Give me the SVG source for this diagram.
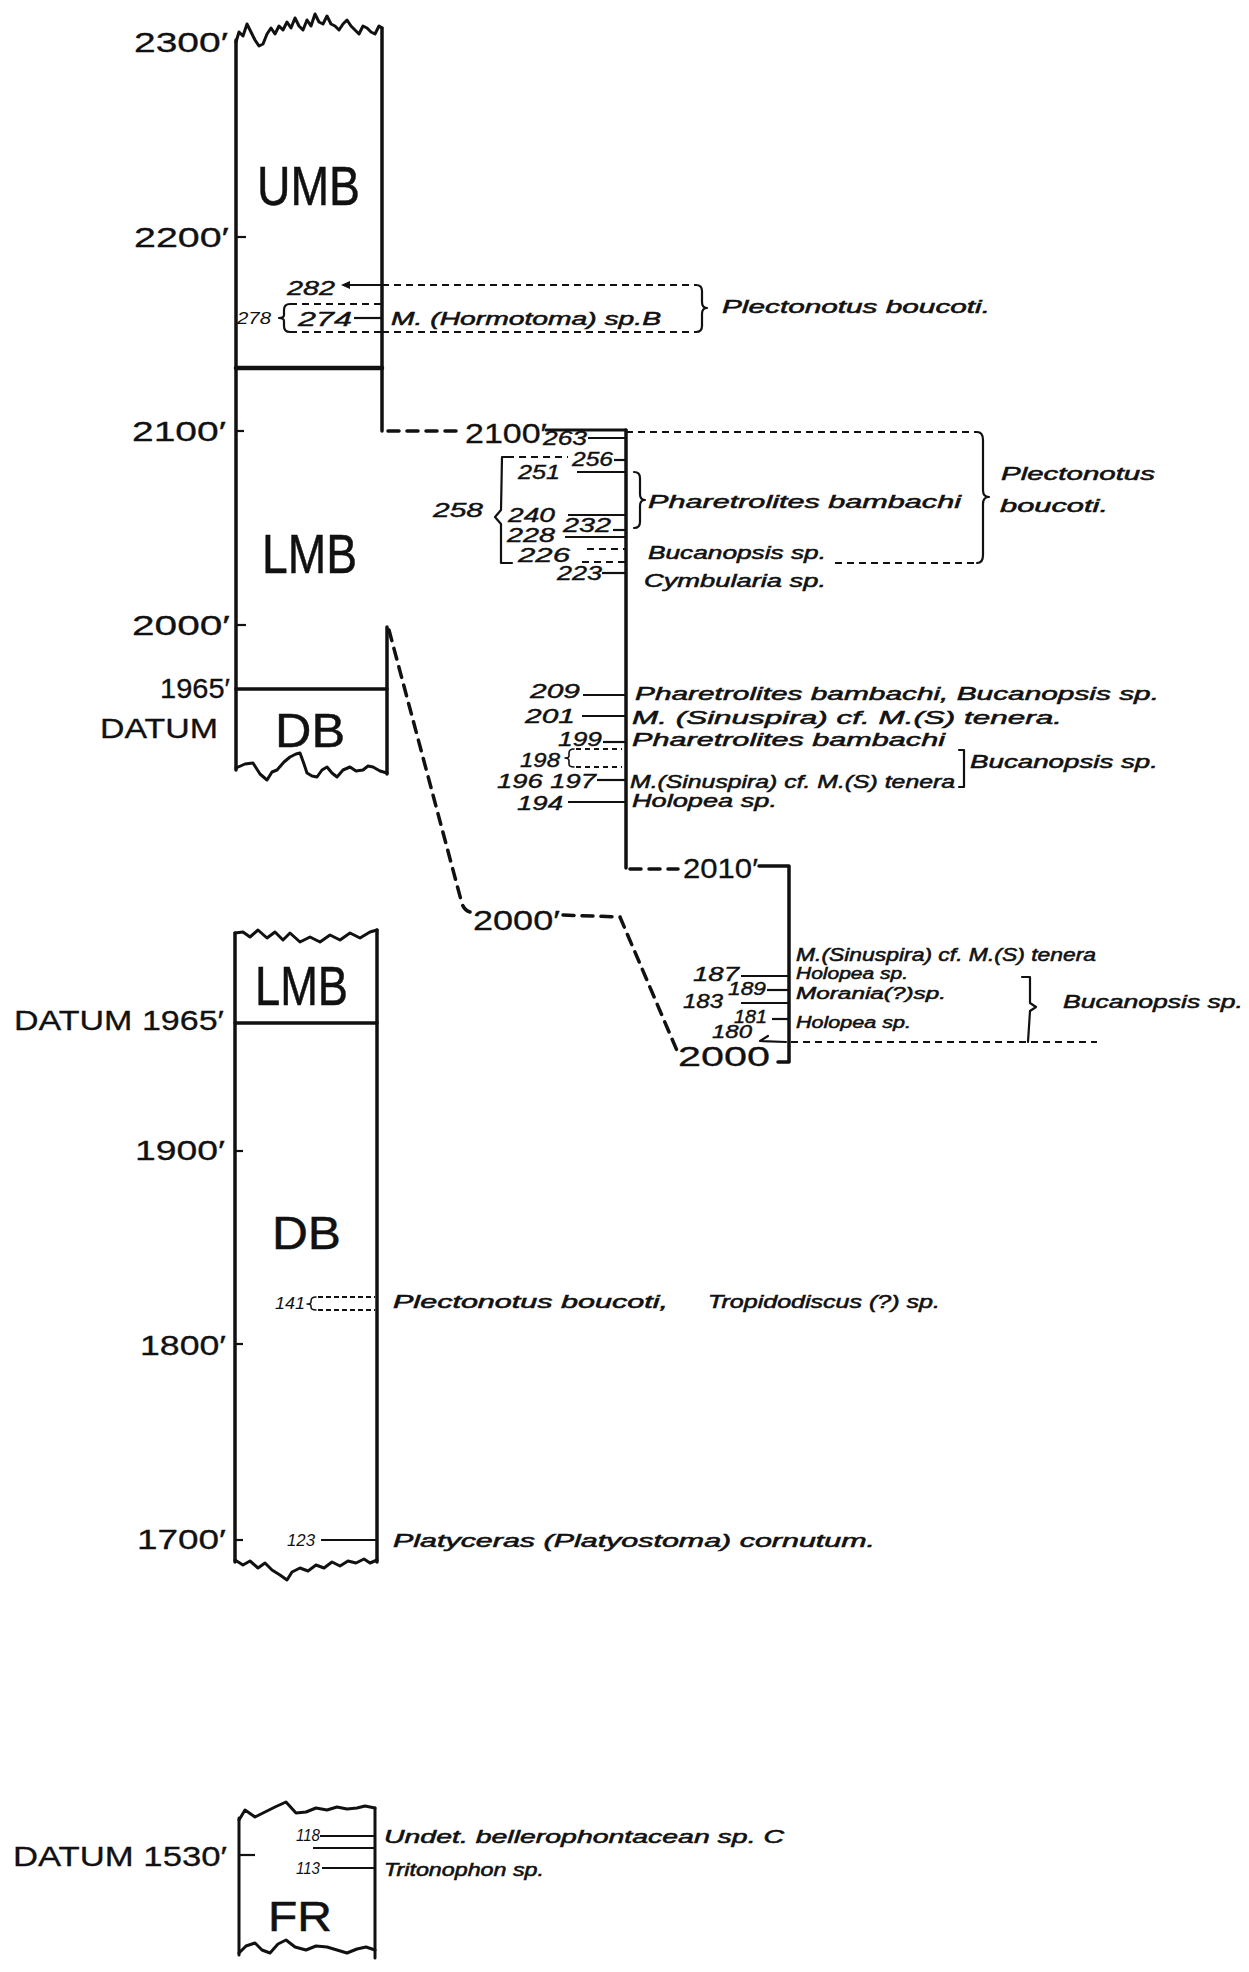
<svg xmlns="http://www.w3.org/2000/svg" width="1249" height="1972" viewBox="0 0 1249 1972">
<style>
  .bg{fill:#fff}
  .col{fill:none;stroke:#111;stroke-width:3.5;stroke-linecap:round;stroke-linejoin:round}
  .wav{fill:none;stroke:#111;stroke-width:3;stroke-linejoin:round;stroke-linecap:round}
  .ld{fill:none;stroke:#111;stroke-width:2.2}
  .dsh{fill:none;stroke:#111;stroke-width:1.8;stroke-dasharray:7 5}
  .cor{fill:none;stroke:#111;stroke-width:3.5;stroke-dasharray:11 8;stroke-linecap:round}
  .br{fill:none;stroke:#111;stroke-width:2.2;stroke-linejoin:round;stroke-linecap:round}
  .dep{font-family:"Liberation Sans",Arial,sans-serif;font-size:28px;fill:#111;stroke:#111;stroke-width:0.3}
  .unit{font-family:"Liberation Sans",Arial,sans-serif;font-size:55px;fill:#111;stroke:#111;stroke-width:0.5}
  .num{font-family:"Liberation Sans",Arial,sans-serif;font-size:20px;font-style:italic;fill:#111;stroke:#111;stroke-width:0.4}
  .sm{font-family:"Liberation Sans",Arial,sans-serif;font-size:16px;font-style:italic;fill:#111}
  .sp{font-family:"Liberation Sans",Arial,sans-serif;font-size:19px;font-style:italic;fill:#111;stroke:#111;stroke-width:0.55}
</style>
<rect class="bg" x="0" y="0" width="1249" height="1972"/>

<g id="connectors">
  <line class="cor" x1="388" y1="431" x2="460" y2="431"/>
  <path class="cor" d="M389,630 L461,900 Q463,910 470,912"/>
  <path class="cor" d="M563,915 L620,917 L678,1053"/>
  <line class="cor" x1="630" y1="869" x2="678" y2="869"/>
  <line class="dsh" x1="382" y1="285" x2="696" y2="285"/>
  <line class="dsh" x1="382" y1="332" x2="696" y2="332"/>
  <line class="dsh" x1="626" y1="432" x2="977" y2="432"/>
  <line class="dsh" x1="835" y1="563" x2="977" y2="563"/>
  <line class="dsh" x1="791" y1="1042" x2="1097" y2="1042"/>
</g>

<g id="column-upper">
  <polyline class="wav" points="236,42 239,32 243,36 247,24 251,32 255,40 259,46 263,44 267,34 271,28 275,34 279,26 283,30 287,22 291,28 295,18 299,26 303,30 307,20 311,26 315,14 319,22 323,24 327,16 331,24 335,26 339,30 343,24 347,20 351,26 355,30 359,34 363,26 367,28 371,32 375,34 379,26 382,28"/>
  <line class="col" x1="236" y1="40" x2="236" y2="770"/>
  <line class="col" x1="382" y1="28" x2="382" y2="431"/>
  <line class="col" x1="236" y1="368" x2="382" y2="368" style="stroke-width:4.5"/>
  <line class="col" x1="236" y1="689" x2="387" y2="689"/>
  <line class="col" x1="387" y1="627" x2="387" y2="774"/>
  <polyline class="wav" points="236,768 245,764 253,763 260,774 267,780 272,772 277,770 284,762 290,757 296,754 300,753 304,764 307,773 312,776 317,777 322,770 327,767 332,773 337,777 343,770 350,767 356,771 363,770 368,766 373,767 380,771 387,773"/>
  <line class="ld" x1="236" y1="237" x2="246" y2="237"/>
  <line class="ld" x1="236" y1="431" x2="244" y2="431"/>
  <line class="ld" x1="236" y1="625" x2="246" y2="625"/>
  <text class="dep" x="134" y="52" textLength="94" lengthAdjust="spacingAndGlyphs">2300′</text>
  <text class="dep" x="134" y="247" textLength="95" lengthAdjust="spacingAndGlyphs">2200′</text>
  <text class="dep" x="132" y="441" textLength="94" lengthAdjust="spacingAndGlyphs">2100′</text>
  <text class="dep" x="132" y="635" textLength="98" lengthAdjust="spacingAndGlyphs">2000′</text>
  <text class="dep" x="160" y="698" textLength="70" lengthAdjust="spacingAndGlyphs">1965′</text>
  <text class="dep" x="100" y="738" textLength="118" lengthAdjust="spacingAndGlyphs">DATUM</text>
  <text class="unit" x="257" y="205" textLength="103" lengthAdjust="spacingAndGlyphs">UMB</text>
  <text class="unit" x="262" y="573" textLength="95" lengthAdjust="spacingAndGlyphs">LMB</text>
  <text class="unit" x="275" y="747" textLength="70" lengthAdjust="spacingAndGlyphs" style="font-size:48px">DB</text>
</g>

<g id="samples-upper">
  <text class="num" x="287" y="295" textLength="48" lengthAdjust="spacingAndGlyphs">282</text>
  <line class="ld" x1="345" y1="285" x2="382" y2="285"/>
  <path d="M341,285 L350,281 L350,289 Z" fill="#111"/>
  <text class="sm" x="237" y="324" textLength="34" lengthAdjust="spacingAndGlyphs">278</text>
  <path class="br" d="M290,304 Q284,304 284,310 L284,315 Q284,318 279,318 Q284,318 284,321 L284,326 Q284,332 290,332"/>
  <line class="dsh" x1="290" y1="304" x2="382" y2="304"/>
  <line class="dsh" x1="290" y1="332" x2="382" y2="332"/>
  <text class="num" x="298" y="326" textLength="54" lengthAdjust="spacingAndGlyphs">274</text>
  <line class="ld" x1="354" y1="318" x2="382" y2="318"/>
  <text class="sp" x="391" y="325" textLength="270" lengthAdjust="spacingAndGlyphs">M. (Hormotoma) sp.B</text>
  <path class="br" d="M696,285 Q702,285 702,291 L702,302 Q702,308 707,308 Q702,308 702,314 L702,326 Q702,332 696,332"/>
  <text class="sp" x="722" y="313" textLength="268" lengthAdjust="spacingAndGlyphs">Plectonotus boucoti.</text>
</g>

<g id="column-2100-2010">
  <text class="dep" x="465" y="443" textLength="82" lengthAdjust="spacingAndGlyphs">2100′</text>
  <line class="col" x1="546" y1="430" x2="626" y2="430" style="stroke-width:3"/>
  <line class="col" x1="626" y1="430" x2="626" y2="868"/>
  <text class="num" x="543" y="445" textLength="44" lengthAdjust="spacingAndGlyphs">263</text>
  <line class="ld" x1="588" y1="438" x2="626" y2="438"/>
  <line class="dsh" x1="507" y1="457" x2="568" y2="457"/>
  <text class="num" x="572" y="466" textLength="41" lengthAdjust="spacingAndGlyphs">256</text>
  <line class="ld" x1="614" y1="460" x2="626" y2="460"/>
  <text class="num" x="518" y="479" textLength="42" lengthAdjust="spacingAndGlyphs">251</text>
  <line class="ld" x1="577" y1="472" x2="626" y2="472"/>
  <text class="num" x="433" y="517" textLength="50" lengthAdjust="spacingAndGlyphs">258</text>
  <path class="br" d="M508,457 L502,457 L501,510 L495,517 L501,524 L501,563 L512,563"/>
  <text class="num" x="508" y="522" textLength="47" lengthAdjust="spacingAndGlyphs">240</text>
  <line class="ld" x1="568" y1="515" x2="626" y2="515"/>
  <text class="num" x="563" y="532" textLength="48" lengthAdjust="spacingAndGlyphs">232</text>
  <line class="ld" x1="613" y1="530" x2="626" y2="530"/>
  <text class="num" x="507" y="542" textLength="48" lengthAdjust="spacingAndGlyphs">228</text>
  <line class="ld" x1="565" y1="537" x2="626" y2="537"/>
  <text class="num" x="518" y="562" textLength="52" lengthAdjust="spacingAndGlyphs">226</text>
  <line class="dsh" x1="587" y1="549" x2="626" y2="549"/>
  <line class="dsh" x1="582" y1="562" x2="626" y2="562"/>
  <text class="num" x="557" y="580" textLength="45" lengthAdjust="spacingAndGlyphs">223</text>
  <line class="ld" x1="602" y1="573" x2="626" y2="573"/>
  <path class="br" d="M634,472 Q640,472 640,478 L640,494 Q640,500 645,500 Q640,500 640,506 L640,522 Q640,528 634,528"/>
  <text class="sp" x="648" y="508" textLength="313" lengthAdjust="spacingAndGlyphs">Pharetrolites bambachi</text>
  <text class="sp" x="648" y="559" textLength="178" lengthAdjust="spacingAndGlyphs">Bucanopsis sp.</text>
  <text class="sp" x="644" y="587" textLength="182" lengthAdjust="spacingAndGlyphs">Cymbularia sp.</text>
  <path class="br" d="M977,432 Q983,432 983,440 L983,490 Q983,497 989,497 Q983,497 983,504 L983,555 Q983,563 977,563"/>
  <text class="sp" x="1001" y="480" textLength="154" lengthAdjust="spacingAndGlyphs">Plectonotus</text>
  <text class="sp" x="1000" y="512" textLength="108" lengthAdjust="spacingAndGlyphs">boucoti.</text>

  <text class="num" x="530" y="698" textLength="50" lengthAdjust="spacingAndGlyphs">209</text>
  <line class="ld" x1="583" y1="695" x2="626" y2="695"/>
  <text class="sp" x="635" y="700" textLength="524" lengthAdjust="spacingAndGlyphs">Pharetrolites bambachi, Bucanopsis sp.</text>
  <text class="num" x="525" y="723" textLength="50" lengthAdjust="spacingAndGlyphs">201</text>
  <line class="ld" x1="582" y1="716" x2="626" y2="716"/>
  <text class="sp" x="632" y="724" textLength="430" lengthAdjust="spacingAndGlyphs">M. (Sinuspira) cf. M.(S) tenera.</text>
  <text class="num" x="558" y="746" textLength="44" lengthAdjust="spacingAndGlyphs">199</text>
  <line class="ld" x1="603" y1="742" x2="626" y2="742"/>
  <text class="sp" x="632" y="746" textLength="313" lengthAdjust="spacingAndGlyphs">Pharetrolites bambachi</text>
  <text class="num" x="520" y="767" textLength="40" lengthAdjust="spacingAndGlyphs">198</text>
  <path class="br" d="M574,749 Q569,749 569,753 L569,756 Q569,758 565,758 Q569,758 569,761 L569,764 Q569,767 574,767" style="stroke-width:1.6"/>
  <line class="dsh" x1="576" y1="749" x2="622" y2="749" style="stroke-dasharray:5 4"/>
  <line class="dsh" x1="576" y1="767" x2="622" y2="767" style="stroke-dasharray:5 4"/>
  <text class="num" x="497" y="788" textLength="99" lengthAdjust="spacingAndGlyphs">196 197</text>
  <line class="ld" x1="597" y1="780" x2="626" y2="780"/>
  <text class="sp" x="630" y="788" textLength="325" lengthAdjust="spacingAndGlyphs">M.(Sinuspira) cf. M.(S) tenera</text>
  <path class="br" d="M959,750 L964,750 L964,787 L959,787"/>
  <text class="sp" x="970" y="768" textLength="188" lengthAdjust="spacingAndGlyphs">Bucanopsis sp.</text>
  <text class="num" x="517" y="810" textLength="46" lengthAdjust="spacingAndGlyphs">194</text>
  <line class="ld" x1="568" y1="802" x2="626" y2="802"/>
  <text class="sp" x="632" y="807" textLength="145" lengthAdjust="spacingAndGlyphs">Holopea sp.</text>

  <text class="dep" x="683" y="878" textLength="75" lengthAdjust="spacingAndGlyphs">2010′</text>
  <polyline class="col" points="759,866 789,866 789,1062 778,1062"/>
</g>

<g id="column-2010-2000">
  <text class="sp" x="796" y="961" textLength="300" lengthAdjust="spacingAndGlyphs" style="font-size:18px">M.(Sinuspira) cf. M.(S) tenera</text>
  <text class="num" x="693" y="981" textLength="46" lengthAdjust="spacingAndGlyphs">187</text>
  <line class="ld" x1="741" y1="976" x2="789" y2="976"/>
  <text class="sp" x="796" y="979" textLength="112" lengthAdjust="spacingAndGlyphs" style="font-size:17px">Holopea sp.</text>
  <text class="num" x="728" y="995" textLength="38" lengthAdjust="spacingAndGlyphs" style="font-size:18px">189</text>
  <line class="ld" x1="767" y1="990" x2="789" y2="990"/>
  <text class="sp" x="796" y="999" textLength="150" lengthAdjust="spacingAndGlyphs" style="font-size:17px">Morania(?)sp.</text>
  <text class="num" x="683" y="1008" textLength="40" lengthAdjust="spacingAndGlyphs">183</text>
  <line class="ld" x1="741" y1="1003" x2="789" y2="1003"/>
  <text class="num" x="734" y="1023" textLength="33" lengthAdjust="spacingAndGlyphs" style="font-size:18px">181</text>
  <line class="ld" x1="772" y1="1019" x2="789" y2="1019"/>
  <text class="sp" x="796" y="1028" textLength="115" lengthAdjust="spacingAndGlyphs" style="font-size:17px">Holopea sp.</text>
  <text class="num" x="712" y="1038" textLength="40" lengthAdjust="spacingAndGlyphs" style="font-size:18px">180</text>
  <path class="br" d="M768,1036 L760,1041 L786,1042"/>
  <path class="br" d="M1022,977 L1030,977 L1030,1003 L1036,1007 L1030,1011 L1028,1042"/>
  <text class="sp" x="1063" y="1008" textLength="180" lengthAdjust="spacingAndGlyphs">Bucanopsis sp.</text>
  <text class="dep" x="678" y="1066" textLength="92" lengthAdjust="spacingAndGlyphs">2000</text>
  <text class="dep" x="473" y="930" textLength="87" lengthAdjust="spacingAndGlyphs">2000′</text>
</g>

<g id="column-lower">
  <polyline class="wav" points="235,933 243,932 250,937 258,930 267,938 275,932 283,940 290,933 300,942 310,937 320,942 330,935 340,940 350,933 360,938 370,932 377,930"/>
  <line class="col" x1="235" y1="933" x2="235" y2="1562"/>
  <line class="col" x1="377" y1="930" x2="377" y2="1562"/>
  <line class="col" x1="235" y1="1023" x2="377" y2="1023"/>
  <text class="unit" x="255" y="1005" textLength="93" lengthAdjust="spacingAndGlyphs">LMB</text>
  <text class="dep" x="14" y="1030" textLength="210" lengthAdjust="spacingAndGlyphs">DATUM 1965′</text>
  <line class="ld" x1="235" y1="1151" x2="243" y2="1151"/>
  <text class="dep" x="135" y="1160" textLength="90" lengthAdjust="spacingAndGlyphs">1900′</text>
  <text class="unit" x="272" y="1249" textLength="69" lengthAdjust="spacingAndGlyphs" style="font-size:46px">DB</text>
  <text class="sm" x="275" y="1309" textLength="30" lengthAdjust="spacingAndGlyphs">141</text>
  <path class="br" d="M316,1297 Q311,1297 311,1301 L311,1302 Q311,1304 307,1304 Q311,1304 311,1306 L311,1307 Q311,1310 316,1310" style="stroke-width:1.5"/>
  <line class="dsh" x1="318" y1="1297" x2="375" y2="1297" style="stroke-dasharray:5 3"/>
  <line class="dsh" x1="318" y1="1310" x2="375" y2="1310" style="stroke-dasharray:5 3"/>
  <text class="sp" x="393" y="1308" textLength="275" lengthAdjust="spacingAndGlyphs" style="font-size:18px">Plectonotus boucoti,</text>
  <text class="sp" x="708" y="1308" textLength="232" lengthAdjust="spacingAndGlyphs" style="font-size:18px">Tropidodiscus (?) sp.</text>
  <line class="ld" x1="235" y1="1344" x2="243" y2="1344"/>
  <text class="dep" x="140" y="1355" textLength="86" lengthAdjust="spacingAndGlyphs">1800′</text>
  <line class="ld" x1="235" y1="1540" x2="243" y2="1540"/>
  <text class="dep" x="137" y="1549" textLength="89" lengthAdjust="spacingAndGlyphs">1700′</text>
  <text class="sm" x="287" y="1546" textLength="28" lengthAdjust="spacingAndGlyphs">123</text>
  <line class="ld" x1="321" y1="1540" x2="377" y2="1540"/>
  <text class="sp" x="393" y="1547" textLength="482" lengthAdjust="spacingAndGlyphs" style="font-size:18px">Platyceras (Platyostoma) cornutum.</text>
  <polyline class="wav" points="235,1560 243,1565 250,1561 258,1568 265,1563 272,1570 280,1575 287,1580 292,1572 300,1568 308,1571 316,1565 324,1568 332,1562 340,1566 348,1561 356,1563 364,1559 370,1563 377,1560"/>
</g>

<g id="column-fr">
  <polyline class="wav" points="239,1820 245,1810 255,1817 265,1812 275,1807 286,1802 296,1813 306,1812 316,1808 327,1810 337,1807 347,1809 357,1808 365,1806 375,1808"/>
  <line class="col" x1="239" y1="1818" x2="239" y2="1955" style="stroke-width:3"/>
  <line class="col" x1="375" y1="1808" x2="375" y2="1958" style="stroke-width:3"/>
  <polyline class="wav" points="239,1953 246,1946 255,1943 262,1950 270,1953 278,1944 286,1940 295,1947 306,1950 316,1946 327,1947 337,1950 347,1953 357,1949 366,1947 375,1950"/>
  <line class="ld" x1="239" y1="1855" x2="255" y2="1855"/>
  <text class="dep" x="13" y="1866" textLength="214" lengthAdjust="spacingAndGlyphs">DATUM 1530′</text>
  <text class="sm" x="296" y="1841" textLength="24" lengthAdjust="spacingAndGlyphs">118</text>
  <line class="ld" x1="320" y1="1836" x2="375" y2="1836"/>
  <line class="ld" x1="313" y1="1848" x2="375" y2="1848"/>
  <text class="sm" x="296" y="1874" textLength="24" lengthAdjust="spacingAndGlyphs">113</text>
  <line class="ld" x1="322" y1="1868" x2="375" y2="1868"/>
  <text class="sp" x="384" y="1843" textLength="400" lengthAdjust="spacingAndGlyphs" style="font-size:18px">Undet. bellerophontacean sp. C</text>
  <text class="sp" x="384" y="1876" textLength="160" lengthAdjust="spacingAndGlyphs" style="font-size:18px">Tritonophon sp.</text>
  <text class="unit" x="268" y="1931" textLength="64" lengthAdjust="spacingAndGlyphs" style="font-size:42px">FR</text>
</g>
</svg>
